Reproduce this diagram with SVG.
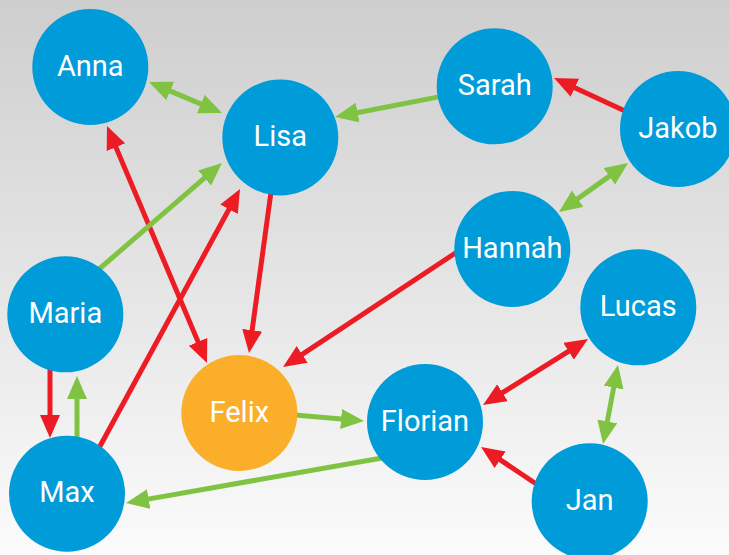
<svg xmlns="http://www.w3.org/2000/svg" width="729" height="555" viewBox="0 0 729 555">
<defs>
<linearGradient id="bg" x1="0" y1="0" x2="0" y2="1">
<stop offset="0" stop-color="#cecece"/>
<stop offset="1" stop-color="#fbfbfb"/>
</linearGradient>
<marker id="ar" markerUnits="userSpaceOnUse" markerWidth="24" markerHeight="22" refX="15" refY="10" orient="auto-start-reverse"><path d="M0,0 L23,10 L0,20 z" fill="#ed1c24"/></marker>
<marker id="ag" markerUnits="userSpaceOnUse" markerWidth="24" markerHeight="22" refX="15" refY="10" orient="auto-start-reverse"><path d="M0,0 L23,10 L0,20 z" fill="#80c342"/></marker>
<style>
.r{stroke:#ed1c24;stroke-width:5;fill:none;marker-end:url(#ar)}
.g{stroke:#80c342;stroke-width:5;fill:none;marker-end:url(#ag)}
.rd{marker-start:url(#ar)}
.gd{marker-start:url(#ag)}
.n circle{fill:#009bd9}
#felix circle{fill:#fbae2a}
.n text{font-family:Roboto,"Liberation Sans",sans-serif;font-size:29px;font-weight:400;fill:#fff;text-anchor:middle}
</style>
</defs>
<rect width="729" height="555" fill="url(#bg)"/>
<g id="connectors">
<line class="g gd" x1="156.4" y1="85.1" x2="214.6" y2="109.9"/>
<line class="g" x1="440" y1="96.6" x2="342.9" y2="115.5"/>
<line class="r" x1="625" y1="111" x2="561.3" y2="81.4"/>
<line class="g gd" x1="621.5" y1="167.6" x2="565.5" y2="207.4"/>
<line class="r" x1="457" y1="252" x2="289.7" y2="362.6"/>
<line class="r" x1="271" y1="192" x2="250.1" y2="345.1"/>
<line class="r rd" x1="110.1" y1="133.4" x2="203.9" y2="355.6"/>
<line class="g" x1="98" y1="270" x2="215.9" y2="168.2"/>
<line class="r" x1="99" y1="448" x2="236.2" y2="196"/>
<line class="r" x1="50" y1="368" x2="50" y2="430"/>
<line class="g" x1="77" y1="438" x2="77" y2="384"/>
<line class="g" x1="295" y1="415" x2="356" y2="420.3"/>
<line class="g" x1="382" y1="458" x2="133.9" y2="501.6"/>
<line class="r rd" x1="581.2" y1="343.3" x2="489.8" y2="400.7"/>
<line class="g gd" x1="616.5" y1="372.9" x2="604.5" y2="436.1"/>
<line class="r" x1="537" y1="484.5" x2="487.7" y2="451.4"/>
</g>
<g id="anna" class="n"><circle cx="90.3" cy="67" r="58"/><text x="90.3" y="76">Anna</text></g>
<g id="lisa" class="n"><circle cx="280.3" cy="137.5" r="58"/><text x="280.3" y="146">Lisa</text></g>
<g id="sarah" class="n"><circle cx="494.7" cy="86.3" r="58"/><text x="494.7" y="94.8">Sarah</text></g>
<g id="jakob" class="n"><circle cx="678" cy="129" r="58"/><text x="678" y="137.5">Jakob</text></g>
<g id="hannah" class="n"><circle cx="512.3" cy="249" r="58"/><text x="512.3" y="257.5">Hannah</text></g>
<g id="lucas" class="n"><circle cx="638.3" cy="307.3" r="58"/><text x="638.3" y="315.8">Lucas</text></g>
<g id="maria" class="n"><circle cx="65.3" cy="314.3" r="58"/><text x="65.3" y="322.8">Maria</text></g>
<g id="felix" class="n"><circle cx="239.3" cy="413" r="58"/><text x="239.3" y="421.5">Felix</text></g>
<g id="florian" class="n"><circle cx="425" cy="422" r="58"/><text x="425" y="430.5">Florian</text></g>
<g id="max" class="n"><circle cx="67" cy="493.7" r="58"/><text x="67" y="502.2">Max</text></g>
<g id="jan" class="n"><circle cx="589.7" cy="501.3" r="58"/><text x="589.7" y="509.8">Jan</text></g>
</svg>
